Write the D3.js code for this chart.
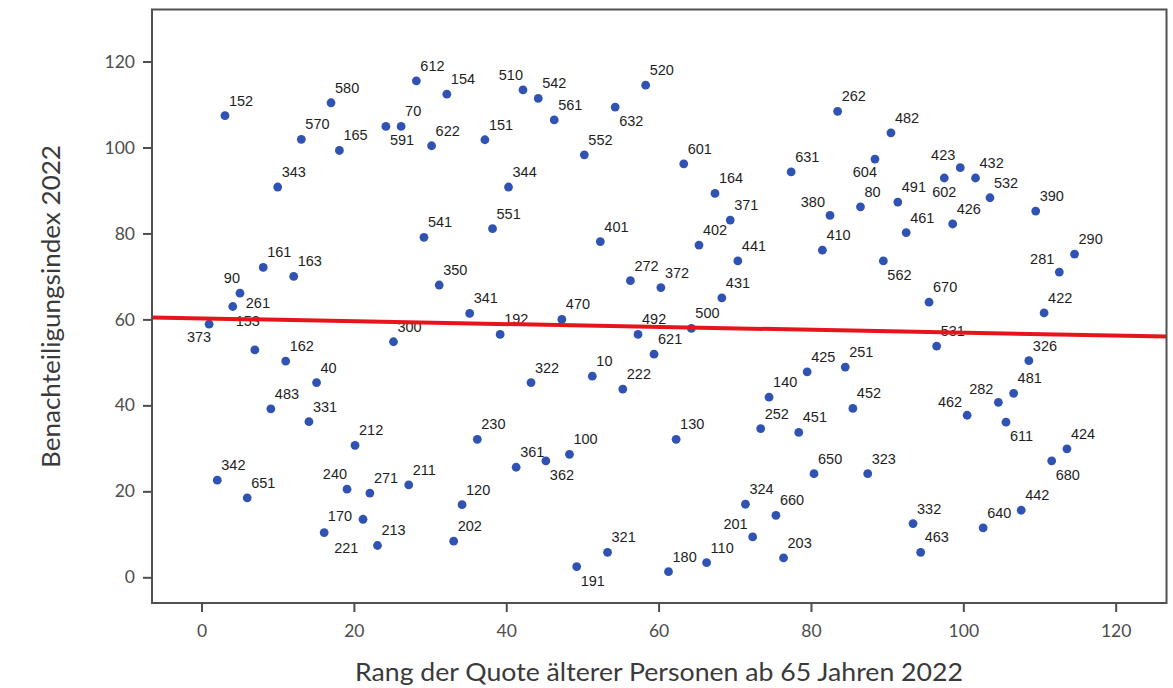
<!DOCTYPE html>
<html>
<head>
<meta charset="utf-8">
<script src="https://cdn.jsdelivr.net/npm/d3@7"></script>
<style>
  html, body { margin: 0; padding: 0; background: #ffffff; }
  svg { display: block; }
</style>
</head>
<body>
<svg id="chart" width="1173" height="688"></svg>
<script>
// ---- data ----
const pointLabels = [373,342,152,261,90,651,153,161,483,343,162,163,570,331,40,221,580,165,240,212,
  170,271,213,591,300,70,211,612,541,622,350,154,202,120,341,230,151,551,192,344,
  361,510,322,542,362,561,470,100,191,552,10,401,321,632,222,272,492,520,621,372,
  180,130,601,500,402,110,164,431,371,441,324,201,252,140,660,203,631,451,425,650,
  410,380,262,251,452,80,323,604,562,482,491,461,332,463,670,531,602,426,423,462,
  432,640,532,282,611,481,442,326,390,422,680,281,424,290];

const rankValues = [1.0,2.07,3.08,4.1,5.05,6.0,7.0,8.1,9.1,10.0,11.05,12.1,13.1,14.1,15.1,16.1,17.0,18.1,19.1,20.15,
  21.2,22.1,23.1,24.2,25.2,26.2,27.2,28.2,29.2,30.2,31.2,32.2,33.1,34.2,35.2,36.2,37.2,38.2,39.2,40.3,
  41.3,42.2,43.25,44.2,45.2,46.3,47.3,48.3,49.25,50.25,51.3,52.35,53.3,54.3,55.3,56.3,57.3,58.3,59.4,60.3,
  61.3,62.3,63.3,64.3,65.3,66.3,67.4,68.3,69.4,70.4,71.4,72.35,73.4,74.5,75.4,76.4,77.4,78.4,79.5,80.4,
  81.5,82.5,83.5,84.5,85.5,86.5,87.45,88.4,89.5,90.5,91.4,92.5,93.4,94.4,95.5,96.5,97.5,98.6,99.6,100.5,
  101.6,102.6,103.5,104.6,105.6,106.6,107.6,108.6,109.5,110.6,111.6,112.6,113.6,114.6];

const indexValues = [58.9,22.6,107.4,63.0,66.1,18.5,52.9,72.1,39.2,90.8,50.3,70.0,101.9,36.2,45.3,10.4,110.4,99.3,20.5,30.7,
  13.5,19.6,7.4,104.9,54.8,104.9,21.5,115.5,79.1,100.4,68.0,112.4,8.4,16.9,61.4,32.1,101.8,81.1,56.5,90.8,
  25.6,113.4,45.3,111.4,27.1,106.4,60.0,28.6,2.5,98.3,46.8,78.1,5.8,109.4,43.8,69.0,56.5,114.5,51.9,67.4,
  1.3,32.1,96.2,57.9,77.3,3.4,89.3,65.0,83.1,73.6,17.0,9.4,34.6,41.9,14.4,4.5,94.3,33.7,47.8,24.1,
  76.1,84.2,108.4,48.9,39.3,86.2,24.1,97.3,73.6,103.4,87.3,80.2,12.5,5.8,64.0,53.8,92.9,82.2,95.3,37.7,
  92.9,11.5,88.3,40.7,36.1,42.8,15.6,50.4,85.2,61.5,27.1,71.0,29.9,75.2];

const xTicks = [0, 20, 40, 60, 80, 100, 120];
const yTicks = [0, 20, 40, 60, 80, 100, 120];
const xTitle = "Rang der Quote älterer Personen ab 65 Jahren 2022";
const yTitle = "Benachteiligungsindex 2022";
const trendIntercept = 60.24;
const trendSlope = -0.0332;

// ---- presentation config ----
// side on which each label sits relative to its dot (default: upper right)
const labelSide = {373:"bl",153:"uc",591:"br",632:"br",604:"bl",602:"b",380:"l",281:"l",562:"br",
  423:"l",282:"l",462:"l",611:"br",680:"br",201:"l",191:"br",362:"br",510:"ul",170:"lm",
  221:"br2",240:"ul",90:"ul",261:"r"};
const sideStyle = {
  ur:{a:"start",dx:4,dy:-10}, br:{a:"start",dx:4,dy:19}, bl:{a:"end",dx:2,dy:18},
  b:{a:"middle",dx:0,dy:19}, l:{a:"end",dx:-5,dy:-8}, ul:{a:"end",dx:0,dy:-10},
  lm:{a:"end",dx:-11,dy:2}, br2:{a:"start",dx:10,dy:20}, r:{a:"start",dx:13,dy:1},
  uc:{a:"middle",dx:-7,dy:-24}
};

const points = pointLabels.map((id, i) => ({id, x: rankValues[i], y: indexValues[i]}));

const svg = d3.select("#chart");
const pLeft = 152, pRight = 1166.5, pTop = 9.5, pBottom = 603;

const x = d3.scaleLinear().domain([-6.5, 126.67]).range([pLeft, pRight]);
const y = d3.scaleLinear().domain([-5.98, 132.1]).range([pBottom, pTop]);

const axisColor = "#4d4d4d";
const axisFont = "Lato, 'Open Sans', sans-serif";

// points
svg.append("g").selectAll("circle").data(points).join("circle")
  .attr("cx", d => x(d.x)).attr("cy", d => y(d.y)).attr("r", 4.4)
  .attr("fill", "#3053b3");

// labels
svg.append("g").selectAll("text").data(points).join("text")
  .each(function(d) {
    const s = sideStyle[labelSide[d.id] || "ur"];
    d3.select(this)
      .attr("x", x(d.x) + s.dx).attr("y", y(d.y) + s.dy)
      .attr("text-anchor", s.a);
  })
  .attr("font-family", "'Liberation Sans', Arial, sans-serif")
  .attr("font-size", 14.5)
  .attr("fill", "#1e1e1e")
  .text(d => d.id);

// trend line
const xd = x.domain();
svg.append("line")
  .attr("x1", x(xd[0])).attr("y1", y(trendIntercept + trendSlope * xd[0]))
  .attr("x2", x(xd[1])).attr("y2", y(trendIntercept + trendSlope * xd[1]))
  .attr("stroke", "#e8141c").attr("stroke-width", 4);

// frame
svg.append("rect")
  .attr("x", pLeft).attr("y", pTop)
  .attr("width", pRight - pLeft).attr("height", pBottom - pTop)
  .attr("fill", "none").attr("stroke", "#505050").attr("stroke-width", 2);

// axes
const gx = svg.append("g").attr("transform", `translate(0,${pBottom})`)
  .call(d3.axisBottom(x).tickValues(xTicks).tickSize(9).tickPadding(13));
const gy = svg.append("g").attr("transform", `translate(${pLeft},0)`)
  .call(d3.axisLeft(y).tickValues(yTicks).tickSize(9).tickPadding(8));
[gx, gy].forEach(g => {
  g.select(".domain").remove();
  g.selectAll(".tick line").attr("stroke", axisColor).attr("stroke-width", 2);
  g.selectAll(".tick text").attr("fill", axisColor)
    .attr("font-family", axisFont).attr("font-size", 17.5);
});

// axis titles
svg.append("text")
  .attr("x", 659).attr("y", 681)
  .attr("text-anchor", "middle")
  .attr("font-family", axisFont).attr("font-size", 25)
  .attr("fill", "#3a3a3a")
  .attr("textLength", 608).attr("lengthAdjust", "spacingAndGlyphs")
  .text(xTitle);

svg.append("text")
  .attr("transform", "translate(60,306.5) rotate(-90)")
  .attr("text-anchor", "middle")
  .attr("font-family", axisFont).attr("font-size", 25)
  .attr("fill", "#3a3a3a")
  .attr("textLength", 323).attr("lengthAdjust", "spacingAndGlyphs")
  .text(yTitle);
</script>
</body>
</html>
